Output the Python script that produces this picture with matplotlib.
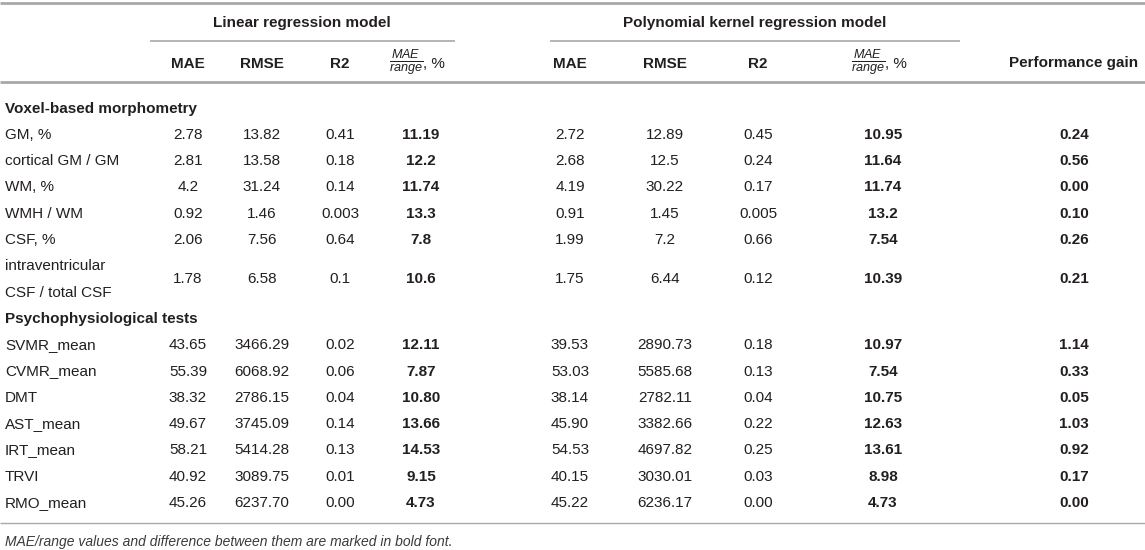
import matplotlib.pyplot as plt

plt.rcParams['font.family'] = ['Liberation Sans', 'DejaVu Sans']
plt.rcParams['mathtext.fontset'] = 'custom'
plt.rcParams['mathtext.rm'] = 'Liberation Sans'
plt.rcParams['mathtext.it'] = 'Liberation Sans:italic'
plt.rcParams['mathtext.bf'] = 'Liberation Sans:bold'

# Table content
group_titles = ['Linear regression model', 'Polynomial kernel regression model']
metric_headers = ['MAE', 'RMSE', 'R2', r'$\frac{MAE}{range}$']
gain_header = 'Performance gain'
section_titles = ['Voxel-based morphometry', 'Psychophysiological tests']
footnote = 'MAE/range values and difference between them are marked in bold font.'

vbm_labels = ['GM, %', 'cortical GM / GM', 'WM, %', 'WMH / WM', 'CSF, %',
              'intraventricular\nCSF / total CSF']
vbm_lin_mae = ['2.78', '2.81', '4.2', '0.92', '2.06', '1.78']
vbm_lin_rmse = ['13.82', '13.58', '31.24', '1.46', '7.56', '6.58']
vbm_lin_r2 = ['0.41', '0.18', '0.14', '0.003', '0.64', '0.1']
vbm_lin_ratio = ['11.19', '12.2', '11.74', '13.3', '7.8', '10.6']
vbm_poly_mae = ['2.72', '2.68', '4.19', '0.91', '1.99', '1.75']
vbm_poly_rmse = ['12.89', '12.5', '30.22', '1.45', '7.2', '6.44']
vbm_poly_r2 = ['0.45', '0.24', '0.17', '0.005', '0.66', '0.12']
vbm_poly_ratio = ['10.95', '11.64', '11.74', '13.2', '7.54', '10.39']
vbm_gain = ['0.24', '0.56', '0.00', '0.10', '0.26', '0.21']

psy_labels = ['SVMR_mean', 'CVMR_mean', 'DMT', 'AST_mean', 'IRT_mean', 'TRVI', 'RMO_mean']
psy_lin_mae = ['43.65', '55.39', '38.32', '49.67', '58.21', '40.92', '45.26']
psy_lin_rmse = ['3466.29', '6068.92', '2786.15', '3745.09', '5414.28', '3089.75', '6237.70']
psy_lin_r2 = ['0.02', '0.06', '0.04', '0.14', '0.13', '0.01', '0.00']
psy_lin_ratio = ['12.11', '7.87', '10.80', '13.66', '14.53', '9.15', '4.73']
psy_poly_mae = ['39.53', '53.03', '38.14', '45.90', '54.53', '40.15', '45.22']
psy_poly_rmse = ['2890.73', '5585.68', '2782.11', '3382.66', '4697.82', '3030.01', '6236.17']
psy_poly_r2 = ['0.18', '0.13', '0.04', '0.22', '0.25', '0.03', '0.00']
psy_poly_ratio = ['10.97', '7.54', '10.75', '12.63', '13.61', '8.98', '4.73']
psy_gain = ['1.14', '0.33', '0.05', '1.03', '0.92', '0.17', '0.00']

# Layout (pixels)
TXT = '#231f20'
RULE = '#a8a8a8'
FS = 11
lin_x = [188, 262, 340, 421]
poly_x = [570, 665, 758, 883]
gain_x = 1074
label_x = 5
row_h = 26.3
base_off = 5.5  # baseline below row centre


def rule(ax, x0, x1, y, lw):
    ax.plot([x0, x1], [y, y], color=RULE, lw=lw, solid_capstyle='butt')


def put(ax, x, y, s, bold=False, ha='center', **kw):
    ax.text(x, y + base_off, s, ha=ha, va='baseline', fontsize=FS, color=TXT,
            fontweight='bold' if bold else 'normal', **kw)


def ratio_header(ax, x, y):
    ax.text(x + 2, y, metric_headers[3], ha='right', va='center', fontsize=13, color=TXT)
    ax.text(x + 2, y + base_off, ', %', ha='left', va='baseline', fontsize=FS, color=TXT)


fig = plt.figure(figsize=(11.45, 5.5), dpi=100)
ax = fig.add_axes([0, 0, 1, 1])
ax.set_xlim(0, 1145)
ax.set_ylim(550, 0)
ax.axis('off')

# header
rule(ax, 0, 1145, 3, 2)
put(ax, 302, 22, group_titles[0], bold=True)
put(ax, 755, 22, group_titles[1], bold=True)
rule(ax, 150, 455, 41, 1.2)
rule(ax, 550, 960, 41, 1.2)
for cols in (lin_x, poly_x):
    for x, h in zip(cols[:3], metric_headers[:3]):
        put(ax, x, 62, h, bold=True)
    ratio_header(ax, cols[3], 62)
put(ax, gain_x, 62, gain_header, bold=True)
rule(ax, 0, 1145, 82, 2)

# body
sections = [
    (vbm_labels, vbm_lin_mae, vbm_lin_rmse, vbm_lin_r2, vbm_lin_ratio,
     vbm_poly_mae, vbm_poly_rmse, vbm_poly_r2, vbm_poly_ratio, vbm_gain),
    (psy_labels, psy_lin_mae, psy_lin_rmse, psy_lin_r2, psy_lin_ratio,
     psy_poly_mae, psy_poly_rmse, psy_poly_r2, psy_poly_ratio, psy_gain),
]
y = 107
for title, cols in zip(section_titles, sections):
    put(ax, label_x, y, title, bold=True, ha='left')
    y += row_h
    for i, lab in enumerate(cols[0]):
        lines = lab.split('\n')
        for k, line in enumerate(lines):
            put(ax, label_x, y + k * row_h, line, ha='left')
        yc = y + (len(lines) - 1) * row_h / 2
        vals = [c[i] for c in cols[1:]]
        xs = lin_x + poly_x + [gain_x]
        for j, (x, v) in enumerate(zip(xs, vals)):
            put(ax, x, yc, v, bold=j in (3, 7, 8))
        y += len(lines) * row_h

rule(ax, 0, 1145, y - row_h + 21, 1)
ax.text(label_x, y - row_h + 40, footnote, ha='left', va='center', fontsize=10,
        color='#3a3a3a', style='italic')

fig.savefig('out.png', dpi=100)
